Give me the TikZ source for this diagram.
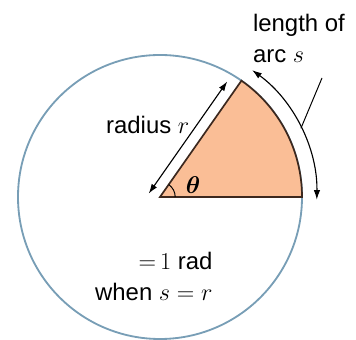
\documentclass[tikz,border=0pt]{standalone}
\usepackage{fontspec}
\setmainfont{Liberation Sans}
\usepackage{amsmath}
\usepackage{bm}
\usepackage{xcolor}
\usepackage{tikz}
\usetikzlibrary{arrows.meta}

\definecolor{ringblue}{RGB}{120,158,182}
\definecolor{sectorfill}{RGB}{250,190,150}
\definecolor{sectoredge}{RGB}{60,40,30}

\tikzset{
  lbl/.style={inner sep=0pt,font=\fontsize{17}{22}\selectfont},
  dim/.style={<->,line width=0.8pt},
}

\begin{document}
\begin{tikzpicture}[>={Latex[length=2.4mm,width=1.6mm]}]
\useasboundingbox (-4,-3.575) rectangle (4.9,4.925);
\coordinate (O) at (0,0);
\draw[ringblue,line width=1.3pt] (O) circle (3.55);
\fill[sectorfill] (O) -- (0:3.55) arc[start angle=0,end angle=55,radius=3.55] -- cycle;
\draw[sectoredge,line width=1.2pt] (O) -- (0:3.55) arc[start angle=0,end angle=55,radius=3.55] -- cycle;
\draw[line width=0.7pt] (0.38,0) arc[start angle=0,end angle=55,radius=0.38];
\node[lbl] (th) at (0.83,0.3) {$\bm{\theta}$};
% radius and arc
\draw[dim,rotate=55] (-0.09,0.28) -- (3.33,0.28);
\draw[dim] (54:3.92) arc[start angle=54,end angle=-1,radius=3.92];
\coordinate (ptr) at (4.05,2.975);
\draw[line width=0.7pt] (ptr) -- (26:3.92);
\node[lbl,anchor=east] (rad) at (0.74,1.8) {radius $r$};
\node[lbl,anchor=north west,align=left] (arclen) at (2.32,4.57) {length of\\arc $s$};
\node[lbl,anchor=north east,align=right] (one) at (1.32,-1.38) {${=}\,1$ rad\\when $s=r$};
\end{tikzpicture}
\end{document}
